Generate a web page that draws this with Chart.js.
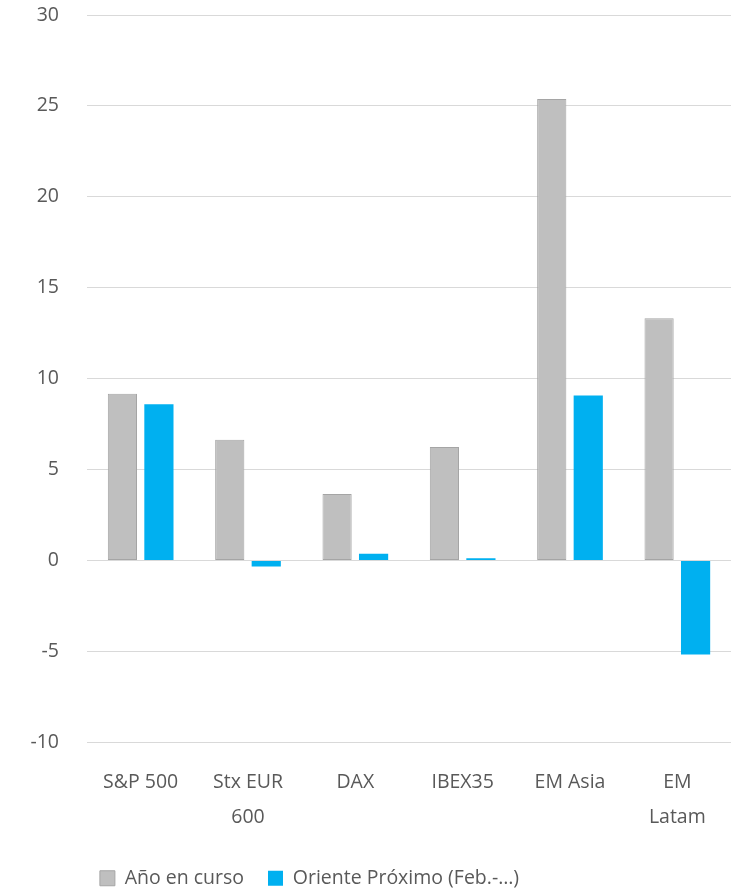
<!DOCTYPE html>
<html>
<head>
<meta charset="utf-8">
<script src="https://cdn.jsdelivr.net/npm/chart.js@4/dist/chart.umd.min.js"></script>
<style>
  html, body { margin: 0; padding: 0; background: #fff; }
  #wrap { width: 743px; height: 895px; }
</style>
</head>
<body>
<div id="wrap"><canvas id="myChart"></canvas></div>
<script>
// categories and values
var categories = ["S&P 500", ["Stx EUR", "600"], "DAX", "IBEX35", "EM Asia", ["EM", "Latam"]];
var anoEnCurso = [9.18, 6.65, 3.66, 6.24, 25.38, 13.33];
var orienteProximo = [8.6, -0.33, 0.38, 0.13, 9.08, -5.16];
var yTicks = [-10, -5, 0, 5, 10, 15, 20, 25, 30];

var FONT = "'Open Sans', 'DejaVu Sans', sans-serif";
var TEXT = "#595959";

// nudge the legend left, the way it sits in the original
var legendShift = {
  id: "legendShift",
  afterLayout: function (chart) {
    chart.legend.left -= 71;
    chart.legend.right -= 71;
  }
};

var ctx = document.getElementById("myChart").getContext("2d");
var myChart = new Chart(ctx, {
  type: "bar",
  data: {
    labels: categories,
    datasets: [
      {
        label: "Año en curso",
        data: anoEnCurso,
        backgroundColor: "#bfbfbf",
        borderColor: "#a5a5a5",
        borderWidth: 1,
        borderSkipped: false
      },
      {
        label: "Oriente Próximo (Feb.-…)",
        data: orienteProximo,
        backgroundColor: "#00b0f0",
        borderWidth: 0
      }
    ]
  },
  options: {
    responsive: true,
    maintainAspectRatio: false,
    animation: false,
    categoryPercentage: 0.68,
    barPercentage: 0.8,
    layout: { padding: { left: 30, right: 12, top: 6, bottom: -3 } },
    plugins: {
      legend: {
        position: "bottom",
        labels: {
          boxWidth: 15,
          boxHeight: 15,
          padding: 24,
          color: TEXT,
          font: { family: FONT, size: 19.5 }
        }
      },
      tooltip: { enabled: false }
    },
    scales: {
      x: {
        grid: { display: false, drawTicks: false },
        border: { display: false },
        ticks: {
          color: TEXT,
          padding: 22.6,
          maxRotation: 0,
          autoSkip: false,
          font: { family: FONT, size: 19.5, lineHeight: 1.78 }
        },
        afterFit: function (axis) {
          // tick padding should only push the labels down, not the sides in
          axis.paddingLeft = 0;
          axis.paddingRight = 0;
          axis.height -= 12.6;
        }
      },
      y: {
        min: -10,
        max: 30,
        afterBuildTicks: function (axis) {
          axis.ticks = yTicks.map(function (v) { return { value: v }; });
        },
        afterFit: function (axis) {
          axis.width = 57;
          axis.paddingTop = 15;
          axis.paddingBottom = 12;
        },
        grid: { color: "#d9d9d9", lineWidth: 1, drawTicks: false },
        border: { display: false },
        ticks: {
          color: TEXT,
          padding: 28,
          font: { family: FONT, size: 19.5 }
        }
      }
    }
  },
  plugins: [legendShift]
});
</script>
</body>
</html>
